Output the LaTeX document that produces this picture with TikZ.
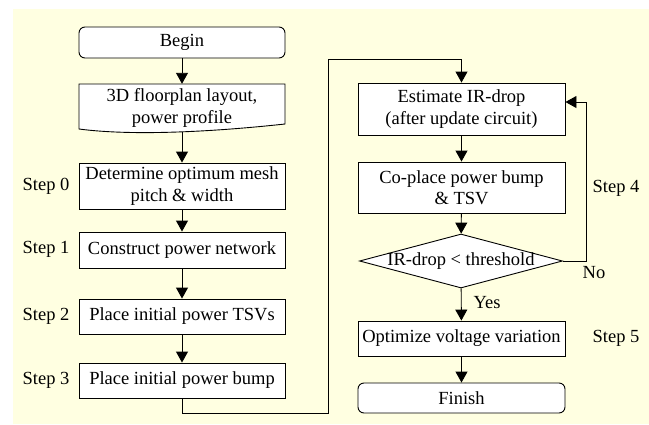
\documentclass[tikz,border=0pt]{standalone}
\usepackage{fontspec}
\setmainfont{Liberation Serif}
\usetikzlibrary{shapes.geometric,arrows.meta}
\definecolor{cream}{RGB}{255,255,225}
\tikzset{
  flow/.style={draw=black, line width=0.9pt, fill=white, inner sep=0pt, align=center,
    minimum width=206pt},
  terminal/.style={flow, rounded corners=6pt},
  decision/.style={draw=black, line width=0.9pt, fill=white, shape=diamond, inner sep=0pt,
    minimum width=203pt, minimum height=54pt},
  steplabel/.style={inner sep=0pt},
  link/.style={line width=0.9pt, -{Triangle[length=11pt,width=12pt]}},
}
\begin{document}
\begin{tikzpicture}[x=1pt, y=-1pt, font=\fontsize{18.5}{21.5}\selectfont]
  \useasboundingbox (0,0) rectangle (649,424);
  \fill[cream] (13,9) rectangle (649,424);

  % left column
  \node[terminal, minimum height=31pt] (begin) at (182,42.5) {Begin};
  % document-shaped input box with a wavy lower edge
  \draw[line width=0.9pt, fill=white] (79,84) -- (285,84) -- (285,124)
    .. controls (230,130) and (140,137) .. (79,129) -- cycle;
  \node[inner sep=0pt, minimum width=206pt, minimum height=48pt, align=center] (doc) at (182,108) {3D floorplan layout,\\power profile};
  \coordinate (docbot) at (182,132);
  \node[flow, minimum height=46pt] (s0) at (182,186) {Determine optimum mesh\\pitch \& width};
  \node[flow, minimum height=36pt] (s1) at (182,250) {Construct power network};
  \node[flow, minimum height=35pt] (s2) at (182,316.5) {Place initial power TSVs};
  \node[flow, minimum height=35pt] (s3) at (182,380.5) {Place initial power bump};

  \node[steplabel] (l0) at (46,186) {Step 0};
  \node[steplabel] (l1) at (46,249) {Step 1};
  \node[steplabel] (l2) at (46,316) {Step 2};
  \node[steplabel] (l3) at (46,380) {Step 3};

  % right column
  \node[flow, minimum width=207pt, minimum height=52pt] (est) at (461.5,109) {Estimate IR-drop\\ (after update circuit)};
  \node[flow, minimum width=207pt, minimum height=51pt] (cop) at (461.5,187.5) {Co-place power bump\\\& TSV};
  \node[decision] (dec) at (461,261) {\makebox[0pt]{IR-drop < threshold}};
  \node[flow, minimum width=207pt, minimum height=35pt] (opt) at (461.5,338.5) {Optimize voltage variation};
  \node[terminal, minimum width=207pt, minimum height=30pt] (fin) at (461.5,398) {Finish};

  \node[steplabel] (l4) at (616,188) {Step 4};
  \node[steplabel] (l5) at (616,338) {Step 5};
  \node[steplabel] (no) at (594,273) {No};
  \node[steplabel] (yes) at (487,303) {Yes};

  % connectors
  \draw[link] (begin) -- (doc.north);
  \draw[link] (docbot) -- (s0);
  \draw[link] (s0) -- (s1);
  \draw[link] (s1) -- (s2);
  \draw[link] (s2) -- (s3);

  \coordinate (c1) at (328,413);
  \coordinate (c2) at (328,59);
  \draw[link] (s3.south) |- (c1) -- (c2) -| (est.north);

  \draw[link] (est) -- (cop);
  \draw[link] (cop) -- (dec);
  \draw[link] (dec) -- (opt);
  \draw[link] (opt) -- (fin);

  % loop back when the drop is still too large
  \coordinate (fb) at (586,102);
  \draw[link] (dec.east) -| (fb) -- (est.east |- fb);
\end{tikzpicture}
\end{document}
